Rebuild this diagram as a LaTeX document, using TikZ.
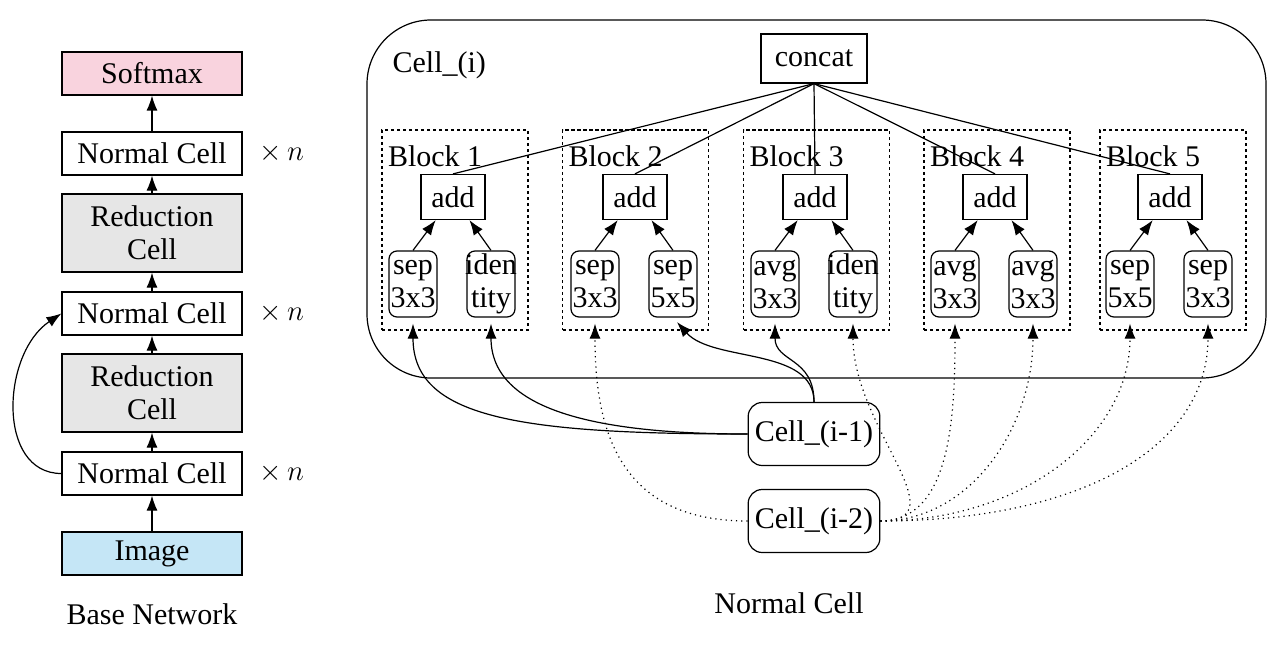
\documentclass[tikz,border=0pt]{standalone}
\usepackage{fontspec}
\setmainfont{Liberation Serif}
\usepackage{xcolor}
\usetikzlibrary{arrows.meta}
\definecolor{softc}{HTML}{F9D3DE}
\definecolor{reducc}{HTML}{E6E6E6}
\definecolor{imagec}{HTML}{C5E6F6}
\newcommand{\opl}[2]{\makebox[20pt]{#1}\\\makebox[20pt]{#2}}

\begin{document}
\begin{tikzpicture}[x=0.5pt,y=-0.5pt,font=\fontsize{15}{16.5}\selectfont,line width=0.6pt,
  box/.style={draw,minimum width=90pt,minimum height=21.5pt,inner sep=0pt},
  redbox/.style={box,fill=reducc,minimum height=39pt,align=center},
  addbox/.style={draw,minimum width=32pt,minimum height=22.5pt,inner sep=0pt},
  opbox/.style={draw,rounded corners=4pt,minimum width=24pt,minimum height=33pt,
                inner xsep=2pt,inner ysep=1pt,align=center},
  blk/.style={draw,dash pattern=on 1.6pt off 1.4pt,minimum width=73pt,minimum height=100pt},
  prev/.style={draw,rounded corners=7pt,minimum width=64pt,minimum height=31.5pt},
  lbl/.style={anchor=west,inner sep=0pt},
  arr/.style={-{Latex[length=7.5pt,width=5.5pt]}},
  inarr/.style={arr,shorten >=3pt},
  dotarr/.style={inarr,dotted},
]
\useasboundingbox (0,0) rectangle (1285,647);

% base network
\node[box,fill=imagec] (img)  at (152,553.5) {Image};
\node[box]             (nc1)  at (152,473.5) {Normal Cell};
\node[redbox]          (red1) at (152,393)   {Reduction\\Cell};
\node[box]             (nc2)  at (152,313.5) {Normal Cell};
\node[redbox]          (red2) at (152,233)   {Reduction\\Cell};
\node[box]             (nc3)  at (152,153.5) {Normal Cell};
\node[box,fill=softc]  (soft) at (152,73.5)  {Softmax};
\node (rep1) at (282,473.5) {$\times\, n$};
\node (rep2) at (282,313.5) {$\times\, n$};
\node (rep3) at (282,153.5) {$\times\, n$};
\node (basel) at (152,614) {Base Network};

\draw[arr] (img) -- (nc1);
\draw[arr] (nc1) -- (red1);
\draw[arr] (red1) -- (nc2);
\draw[arr] (nc2) -- (red2);
\draw[arr] (red2) -- (nc3);
\draw[arr] (nc3) -- (soft);
\draw[arr] (nc1.west) .. controls +(-65,0) and +(-60,40) .. (nc2.west);

% normal cell
\node[draw,rounded corners=32pt,minimum width=449.5pt,minimum height=179pt] (celli) at (816.5,199) {};
\node[lbl] (cellil) at (392,65) {Cell\_(i)};
\node[addbox,minimum width=53pt,minimum height=24.5pt] (concat) at (814,58.5) {concat};

\node[blk] (blk1) at (455,230)   {};
\node[blk] (blk2) at (635.5,230) {};
\node[blk] (blk3) at (816.5,230) {};
\node[blk] (blk4) at (997,230)   {};
\node[blk] (blk5) at (1173,230)  {};
\node[lbl] (blk1l) at ([shift={(6,27)}]blk1.north west) {Block 1};
\node[lbl] (blk2l) at ([shift={(6,27)}]blk2.north west) {Block 2};
\node[lbl] (blk3l) at ([shift={(6,27)}]blk3.north west) {Block 3};
\node[lbl] (blk4l) at ([shift={(6,27)}]blk4.north west) {Block 4};
\node[lbl] (blk5l) at ([shift={(6,27)}]blk5.north west) {Block 5};

\node[addbox] (add1) at (453,197)  {add};
\node[addbox] (add2) at (635,197)  {add};
\node[addbox] (add3) at (815,197)  {add};
\node[addbox] (add4) at (995,197)  {add};
\node[addbox] (add5) at (1170,197) {add};

\node[opbox] (op1a) at (413,284)  {\opl{sep}{3x3}};
\node[opbox] (op1b) at (491,284)  {\opl{iden}{tity}};
\node[opbox] (op2a) at (595,284)  {\opl{sep}{3x3}};
\node[opbox] (op2b) at (673,284)  {\opl{sep}{5x5}};
\node[opbox] (op3a) at (775,284)  {\opl{avg}{3x3}};
\node[opbox] (op3b) at (853,284)  {\opl{iden}{tity}};
\node[opbox] (op4a) at (955,284)  {\opl{avg}{3x3}};
\node[opbox] (op4b) at (1033,284) {\opl{avg}{3x3}};
\node[opbox] (op5a) at (1130,284) {\opl{sep}{5x5}};
\node[opbox] (op5b) at (1208,284) {\opl{sep}{3x3}};

\node[prev] (prev1) at (814,434) {Cell\_(i-1)};
\node[prev] (prev2) at (814,521) {Cell\_(i-2)};
\node (normall) at (789,603) {Normal Cell};

% concat gathers the five blocks
\draw (concat.south) -- (add1.north);
\draw (concat.south) -- (add2.north);
\draw (concat.south) -- (add3.north);
\draw (concat.south) -- (add4.north);
\draw (concat.south) -- (add5.north);

\draw[arr] (op1a.north) -- (add1);  \draw[arr] (op1b.north) -- (add1);
\draw[arr] (op2a.north) -- (add2);  \draw[arr] (op2b.north) -- (add2);
\draw[arr] (op3a.north) -- (add3);  \draw[arr] (op3b.north) -- (add3);
\draw[arr] (op4a.north) -- (add4);  \draw[arr] (op4b.north) -- (add4);
\draw[arr] (op5a.north) -- (add5);  \draw[arr] (op5b.north) -- (add5);

% inputs from cell i-1 (solid) and cell i-2 (dotted)
\draw[inarr] (prev1.west) .. controls +(-230,0) and +(0,100) .. (op1a.south);
\draw[inarr] (prev1.west) .. controls +(-150,0) and +(0,93) .. (op1b.south);
\draw[inarr] (prev1.north) .. controls +(0,-55) and +(40,45) .. (op2b.south);
\draw[inarr] (prev1.north) .. controls +(0,-45) and +(0,45) .. (op3a.south);

\draw[dotarr] (prev2.west) .. controls +(-130,0) and +(0,110) .. (op2a.south);
\draw[dotarr] (prev2.east) .. controls +(80,0) and +(0,110) .. (op3b.south);
\draw[dotarr] (prev2.east) .. controls +(70,0) and +(0,100) .. (op4a.south);
\draw[dotarr] (prev2.east) .. controls +(90,0) and +(0,110) .. (op4b.south);
\draw[dotarr] (prev2.east) .. controls +(140,0) and +(0,120) .. (op5a.south);
\draw[dotarr] (prev2.east) .. controls +(200,0) and +(0,130) .. (op5b.south);
\end{tikzpicture}
\end{document}
